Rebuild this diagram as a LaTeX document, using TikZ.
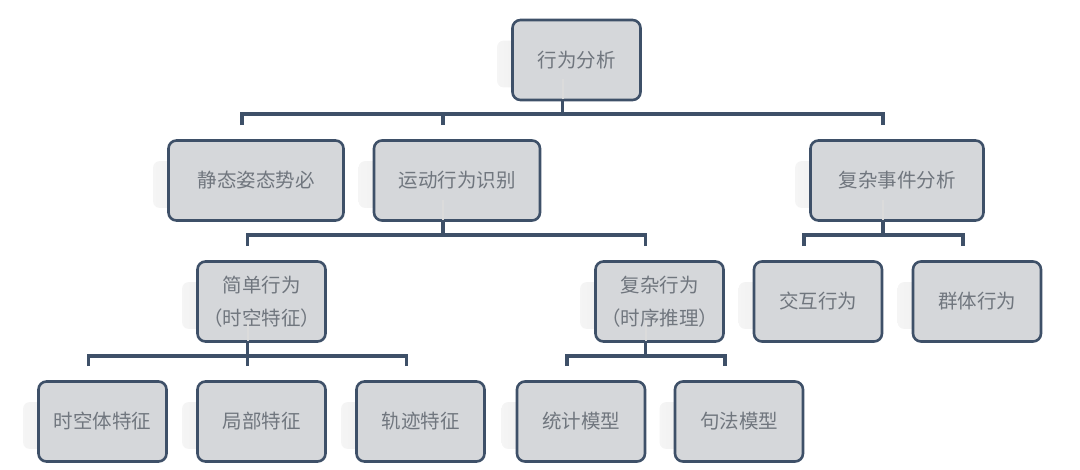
\documentclass[tikz,border=0pt]{standalone}
\usepackage{fontspec}
\newfontfamily\cjk{Noto Sans CJK SC}
\definecolor{boxFill}{RGB}{213, 215, 218}
\definecolor{boxEdge}{RGB}{62, 80, 104}
\definecolor{textGray}{RGB}{112, 118, 126}
\usepackage{tikz}
\usetikzlibrary{positioning, calc, backgrounds}

\begin{document}
\begin{tikzpicture}[
    x=1pt, y=-1pt,
    item/.style={rectangle, draw=boxEdge, line width=2.6pt, fill=boxFill,
                 rounded corners=8pt, minimum width=128pt, minimum height=80pt,
                 inner sep=0pt, align=center, text=textGray,
                 font=\cjk\fontsize{19.5}{33}\selectfont},
    link/.style={boxEdge, line width=3.8pt},
    ghost/.style={gray!28, line width=2pt},
    glow/.style={left color=gray!8, right color=gray!30, rounded corners=6pt},
  ]
    \useasboundingbox (0,0) rectangle (1080,469);

    % Top level
    \node[item] (ROOT) at (576.5,60) {行为分析};

    % Second level
    \node[item, minimum width=175pt] (STATIC) at (256,180.5) {静态姿态势必};
    \node[item, minimum width=166pt] (MOTION) at (457,180.5) {运动行为识别};
    \node[item, minimum width=173pt] (EVENT) at (897,180.5) {复杂事件分析};

    % Third level
    \node[item] (SIMPLE) at (261.5,301.5) {简单行为\\（时空特征）};
    \node[item] (COMPLEX) at (659.5,301.5) {复杂行为\\（时序推理）};
    \node[item] (INTER) at (818,301.5) {交互行为};
    \node[item] (GROUP) at (977,301.5) {群体行为};

    % Fourth level
    \node[item] (STVOL) at (102.5,421.5) {时空体特征};
    \node[item] (LOCAL) at (261.5,421.5) {局部特征};
    \node[item] (TRACK) at (420.5,421.5) {轨迹特征};
    \node[item] (STAT) at (581,421.5) {统计模型};
    \node[item] (SYNTAX) at (739,421.5) {句法模型};

    % Faded shadows behind the boxes
    \begin{scope}[on background layer]
      \foreach \n in {ROOT, STATIC, MOTION, EVENT, SIMPLE, COMPLEX, INTER,
                      GROUP, STVOL, LOCAL, TRACK, STAT, SYNTAX}
        \shade[glow] ($(\n.north west)+(-14,22)$) rectangle ($(\n.south east)+(-14,-14)$);
    \end{scope}

    % Tree connectors
    \foreach \p/\c in {ROOT/STATIC, ROOT/MOTION, ROOT/EVENT,
                       MOTION/SIMPLE, MOTION/COMPLEX, EVENT/INTER, EVENT/GROUP,
                       SIMPLE/STVOL, SIMPLE/LOCAL, SIMPLE/TRACK,
                       COMPLEX/STAT, COMPLEX/SYNTAX}
      \draw[link] ($(\c.north)+(-14,-14)$) |- ($(\p.south)+(-14,13)$);
    \foreach \p in {ROOT, MOTION, EVENT, SIMPLE, COMPLEX} {
      \draw[ghost] ($(\p.south)+(-14,-2)$) -- ++(0,-20);
      \draw[link] ($(\p.south)+(-14,0)$) -- ++(0,15);
    }
\end{tikzpicture}
\end{document}
